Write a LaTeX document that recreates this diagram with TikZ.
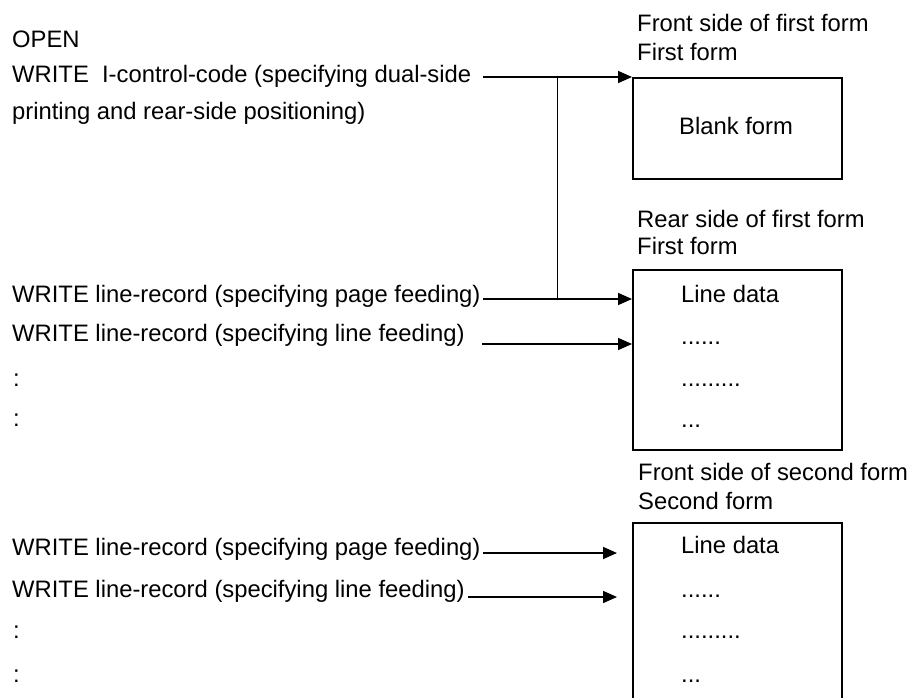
\documentclass[tikz,border=0pt]{standalone}
\usepackage{fontspec}
\setmainfont{Liberation Sans}
\usetikzlibrary{arrows.meta}
\tikzset{
  txt/.style={anchor=base west, inner sep=0pt, font=\fontsize{23.8}{28}\selectfont},
  ctxt/.style={anchor=base, inner sep=0pt, font=\fontsize{23.8}{28}\selectfont},
  formbox/.style={draw, line width=1.6pt, anchor=north west, inner sep=0pt},
  conn/.style={line width=1.6pt},
  arr/.style={line width=1.6pt, -{Triangle[length=14pt,width=12pt]}}
}
\begin{document}
\begin{tikzpicture}[x=1pt,y=-1pt]
\useasboundingbox (0,0) rectangle (910,698);
% left texts
\node[txt] (open) at (12,48) {OPEN};
\node[txt] (wctl) at (12,83) {WRITE\ \ I-control-code (specifying dual-side};
\node[txt] (wctl2) at (12,120) {printing and rear-side positioning)};
\node[txt] (w1p) at (12,302) {WRITE line-record (specifying page feeding)};
\node[txt] (w1l) at (12,341) {WRITE line-record (specifying line feeding)};
\node[txt] (c1a) at (13,386) {:};
\node[txt] (c1b) at (13,426) {:};
\node[txt] (w2p) at (12,555) {WRITE line-record (specifying page feeding)};
\node[txt] (w2l) at (12,597) {WRITE line-record (specifying line feeding)};
\node[txt] (c2a) at (13,638) {:};
\node[txt] (c2b) at (13,682) {:};
% right labels
\node[txt] (l1a) at (637,32) {Front side of first form};
\node[txt] (l1b) at (637,61) {First form};
\node[txt] (l2a) at (637,227) {Rear side of first form};
\node[txt] (l2b) at (637,254) {First form};
\node[txt] (l3a) at (638,480) {Front side of second form};
\node[txt] (l3b) at (638,509) {Second form};
% boxes
\node[formbox, minimum width=209pt, minimum height=101pt] (box1) at (632,77) {};
\node[formbox, minimum width=209pt, minimum height=180pt] (box2) at (632,269) {};
\node[formbox, minimum width=209pt, minimum height=190pt] (box3) at (632,522) {};
% box contents
\node[ctxt] (blank) at (736,135) {Blank form};
\node[txt] (b2a) at (681,302) {Line data};
\node[txt] (b2b) at (681,344) {......};
\node[txt] (b2c) at (681,386) {.........};
\node[txt] (b2d) at (681,427) {...};
\node[txt] (b3a) at (681,553) {Line data};
\node[txt] (b3b) at (681,597) {......};
\node[txt] (b3c) at (681,638) {.........};
\node[txt] (b3d) at (681,682) {...};
% connectors
\coordinate (s1) at (483,77);
\coordinate (s2) at (483,299);
\coordinate (s3) at (482,344);
\coordinate (s4) at (483,553);
\coordinate (s5) at (468,597);
\coordinate (j1) at (557.5,77);
\coordinate (j2) at (557.5,299);
\coordinate (t4) at (617,553);
\coordinate (t5) at (617,597);
\draw[arr] (s1) -- (box1.north west);
\draw[conn] (j1) -- (j2);
\draw[arr] (s2) -- (box2.west |- s2);
\draw[arr] (s3) -- (box2.west |- s3);
\draw[arr] (s4) -- (t4);
\draw[arr] (s5) -- (t5);
\end{tikzpicture}
\end{document}
